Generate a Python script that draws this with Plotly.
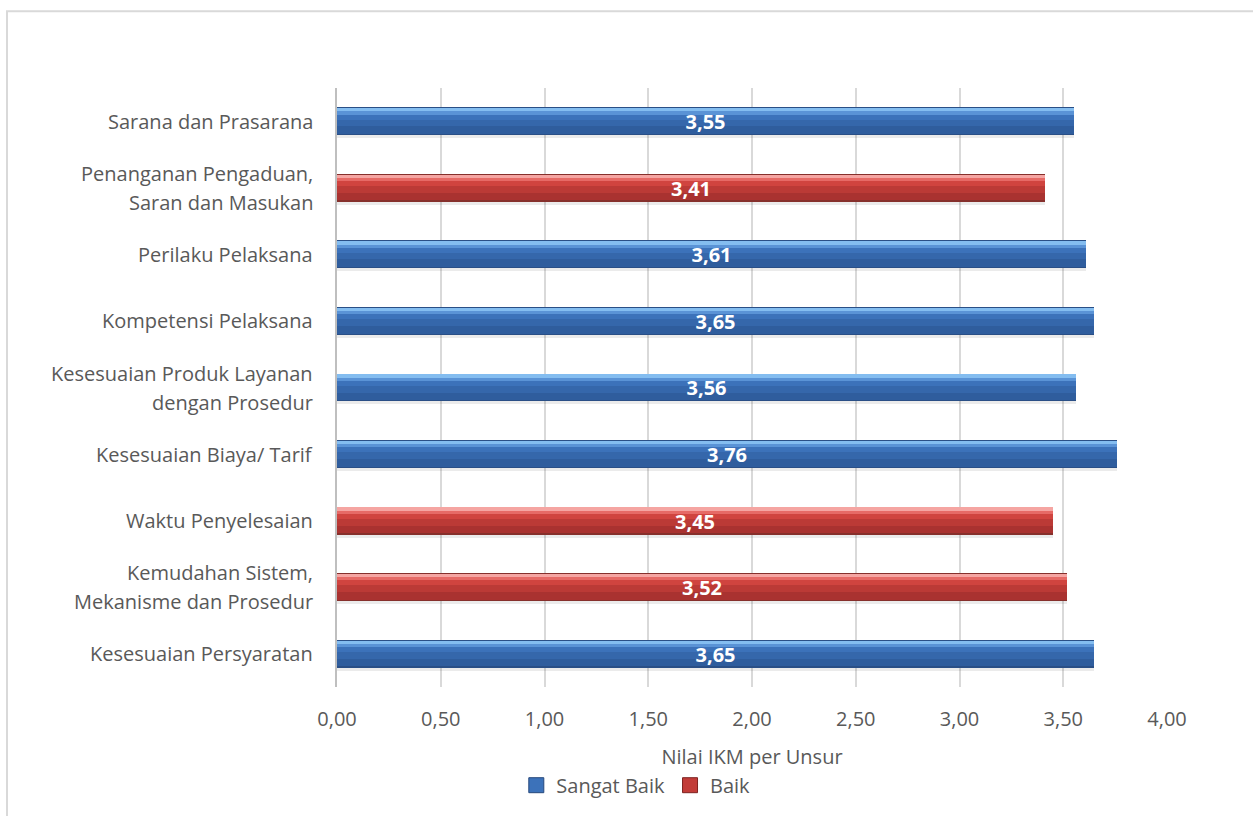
import plotly.graph_objects as go

# Service elements, listed bottom to top as they appear on the axis
categories = [
    "Kesesuaian Persyaratan",
    "Kemudahan Sistem,<br>Mekanisme dan Prosedur",
    "Waktu Penyelesaian",
    "Kesesuaian Biaya/ Tarif",
    "Kesesuaian Produk Layanan<br>dengan Prosedur",
    "Kompetensi Pelaksana",
    "Perilaku Pelaksana",
    "Penanganan Pengaduan,<br>Saran dan Masukan",
    "Sarana dan Prasarana",
]
scores = [3.65, 3.52, 3.45, 3.76, 3.56, 3.65, 3.61, 3.41, 3.55]
ratings = ["Sangat Baik", "Baik", "Baik", "Sangat Baik", "Sangat Baik",
           "Sangat Baik", "Sangat Baik", "Baik", "Sangat Baik"]

x_ticks = [0, 0.5, 1, 1.5, 2, 2.5, 3, 3.5, 4]
x_title = "Nilai IKM per Unsur"

FONT = "Open Sans, Segoe UI, sans-serif"
GREY = "#595959"

BAR_W = 0.42
# Shading bands across the bar thickness (fraction from bottom, fraction to top, colour)
shades = {
    "Sangat Baik": [
        (0.00, 1.00, "#2a4f86"),
        (0.05, 0.32, "#2f5d9d"),
        (0.32, 0.56, "#3567ab"),
        (0.56, 0.74, "#3c72ba"),
        (0.74, 0.85, "#5a93d6"),
        (0.85, 0.97, "#84bdf0"),
    ],
    "Baik": [
        (0.00, 1.00, "#86302c"),
        (0.05, 0.32, "#a93230"),
        (0.32, 0.56, "#bb3a36"),
        (0.56, 0.74, "#d0443f"),
        (0.74, 0.85, "#e66a66"),
        (0.85, 0.97, "#f5a5a2"),
    ],
}
legend_swatch = {"Sangat Baik": ("#3c72ba", "#27497c"), "Baik": ("#c23c38", "#7e2320")}

fig = go.Figure()

# soft drop shadow under each bar
fig.add_trace(go.Bar(
    y=list(range(len(categories))), x=scores, orientation="h",
    offset=-BAR_W / 2 - 0.045, width=0.05,
    marker=dict(color="rgba(0,0,0,0.08)", line=dict(width=0)),
    showlegend=False, hoverinfo="skip",
))

for series, bands in shades.items():
    vals = [v if r == series else None for v, r in zip(scores, ratings)]
    for lo, hi, col in bands:
        fig.add_trace(go.Bar(
            y=list(range(len(categories))), x=vals, orientation="h",
            offset=-BAR_W / 2 + lo * BAR_W, width=(hi - lo) * BAR_W,
            marker=dict(color=col, line=dict(width=0)),
            name=series, legendgroup=series,
            showlegend=False, hoverinfo="skip",
        ))

# value labels on top of the shaded bars
fig.add_trace(go.Bar(
    y=list(range(len(categories))), x=scores, orientation="h",
    offset=-BAR_W / 2, width=BAR_W,
    marker=dict(color="rgba(0,0,0,0)", line=dict(width=0)),
    text=[f"{v:.2f}".replace(".", ",") for v in scores],
    textposition="inside", insidetextanchor="middle", constraintext="none",
    textfont=dict(family=FONT, size=20, color="white", weight="bold"),
    showlegend=False, hoverinfo="skip",
))

# legend swatches
for series, (fill, edge) in legend_swatch.items():
    fig.add_trace(go.Scatter(
        x=[None], y=[None], mode="markers", name=series, legendgroup=series,
        marker=dict(symbol="square", size=15, color=fill, line=dict(color=edge, width=1)),
        hoverinfo="skip",
    ))

# category labels, centred lines right-aligned against the axis
annotations = []
for idx, cat in enumerate(categories):
    lines = cat.split("<br>")
    n = len(lines)
    for j, line in enumerate(lines):
        shift = (n - 1) / 2 * 29 - j * 29
        annotations.append(dict(
            x=-0.027, xref="paper", y=idx, yref="y",
            text=line, showarrow=False, xanchor="right", yanchor="middle",
            yshift=shift, font=dict(family=FONT, size=20, color=GREY),
        ))

# outer chart frame
shapes = [dict(
    type="rect", xref="paper", yref="paper",
    x0=-0.3976, x1=1.12, y0=-0.26, y1=1.1283,
    line=dict(color="#d9d9d9", width=2), fillcolor="rgba(0,0,0,0)", layer="below",
)]

fig.update_layout(
    width=1253, height=816,
    margin=dict(l=337, r=86, t=88, b=128),
    paper_bgcolor="white", plot_bgcolor="white",
    barmode="overlay", bargap=0,
    separators=",.",
    annotations=annotations, shapes=shapes,
    showlegend=True,
    legend=dict(
        orientation="h", x=0.36, xanchor="center", y=-0.162, yanchor="middle",
        font=dict(family=FONT, size=20, color=GREY),
        itemwidth=30, tracegroupgap=0,
    ),
    xaxis=dict(
        range=[0, 4], tickvals=x_ticks, tickformat=".2f",
        showgrid=True, gridcolor="#d9d9d9", gridwidth=1.5,
        zeroline=False, showline=False, ticks="",
        ticklabelstandoff=18,
        tickfont=dict(family=FONT, size=20, color=GREY),
        title=dict(text=x_title, font=dict(family=FONT, size=20, color=GREY), standoff=18),
    ),
    yaxis=dict(
        range=[-0.5, len(categories) - 0.5], showticklabels=False,
        showgrid=False, zeroline=False, ticks="",
        showline=True, linecolor="#bfbfbf", linewidth=1.5,
    ),
)

fig.write_html("out.html")
